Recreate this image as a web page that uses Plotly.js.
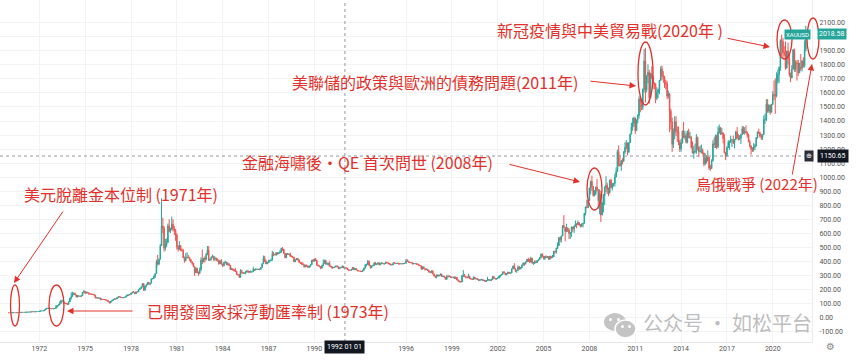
<!DOCTYPE html>
<html><head><meta charset="utf-8">
<script src="https://cdn.plot.ly/plotly-3.0.1.min.js"></script>
<style>html,body{margin:0;padding:0;background:#fff;overflow:hidden}#chart{width:856px;height:362px}</style>
</head><body><div id="chart"></div>
<script>
// ---- DATA: monthly gold (XAUUSD) candles, Jan 1970 .. Mar 2022 ----
const startYear = 1970;
const firstOpen = 35.2;
const closes = [
35.0,35.0,35.2,35.5,35.5,35.4,35.3,35.4,36.2,37.5,37.4,37.4,
37.9,38.7,38.9,39.0,40.5,40.1,41.0,42.7,42.0,42.5,43.0,43.6,
45.8,48.3,48.3,49.0,54.6,62.1,65.7,67.0,65.5,64.9,62.9,63.9,
65.1,74.2,84.5,90.5,102,120,120,106,103,100,94,112,
139,150,168,172,163,149,154,154,151,158,181,187,
175,180,177,167,167,166,166,161,141,143,138,140,
128,132,129,128,126,124,113,104,116,123,130,134,
133,142,149,148,143,141,144,145,154,162,161,165,
175,182,181,170,184,183,200,208,218,242,194,226,
233,251,240,246,275,277,296,315,397,382,416,512,
653,637,494,517,535,653,614,631,666,629,620,590,
506,489,514,482,479,426,406,426,428,427,414,397,
387,363,320,350,318,315,342,411,397,424,414,448,
480,408,414,429,437,416,422,414,405,383,406,381,
370,394,394,377,384,373,343,348,341,333,329,309,
306,287,330,321,316,317,327,333,326,325,326,327,
345,339,344,345,343,346,357,384,423,401,383,390,
405,406,409,454,452,448,462,453,460,466,493,487,
458,427,457,450,452,437,436,430,398,412,422,410,
394,388,384,378,363,373,369,358,367,377,409,401,
416,408,373,368,363,352,372,387,407,381,385,386,
366,363,355,357,361,368,362,348,355,357,366,353,
354,353,341,337,337,343,357,340,349,339,333,332,
330,328,337,353,378,378,402,372,355,369,370,390,
379,381,390,376,387,387,384,385,394,390,383,383,
375,377,390,389,385,387,383,383,384,383,386,387,
405,401,395,392,392,382,385,386,380,379,371,369,
345,362,349,341,345,336,326,325,333,311,296,290,
305,297,301,311,293,296,288,273,293,292,294,288,
287,288,279,286,268,261,255,254,299,300,291,290,
284,293,278,274,272,288,276,278,273,264,270,272,
266,267,258,264,267,270,265,273,293,279,275,277,
282,297,302,308,326,318,304,312,324,316,318,347,
368,350,334,336,361,346,354,375,388,384,396,416,
403,396,423,388,393,395,391,407,415,428,452,438,
422,435,428,435,415,436,428,433,473,470,495,513,
569,557,582,654,643,614,633,623,599,604,646,632,
651,669,662,677,659,650,665,672,743,789,783,834,
923,971,933,871,885,930,913,833,880,730,817,869,
928,942,916,891,979,926,955,955,1001,1040,1182,1095,
1081,1118,1113,1179,1212,1244,1180,1246,1307,1357,1386,1421,
1332,1409,1439,1556,1536,1500,1628,1828,1620,1722,1746,1565,
1737,1710,1669,1664,1560,1604,1622,1688,1772,1719,1712,1675,
1663,1578,1595,1472,1393,1234,1313,1396,1327,1323,1250,1202,
1244,1326,1284,1296,1250,1327,1282,1287,1210,1171,1183,1184,
1283,1213,1183,1184,1190,1172,1095,1133,1115,1142,1065,1061,
1118,1238,1234,1292,1215,1321,1351,1309,1316,1276,1173,1152,
1211,1248,1249,1268,1268,1242,1269,1321,1280,1271,1275,1303,
1345,1318,1325,1315,1299,1252,1224,1201,1192,1215,1222,1282,
1321,1313,1292,1284,1305,1409,1413,1520,1472,1513,1463,1517,
1589,1585,1577,1686,1730,1781,1975,1968,1886,1879,1777,1898,
1846,1734,1707,1769,1906,1770,1814,1813,1743,1783,1775,1829,
1796,1909,2018.58
];
const highs = [
35.3,35.2,35.3,35.7,35.9,35.6,35.5,35.6,36.3,37.6,37.7,37.6,
38.1,38.9,39.1,39.4,40.8,40.7,41.3,43.9,42.8,42.9,43.5,43.8,
46.2,49.0,48.9,49.9,56.0,65.0,70.0,70.0,67.5,66.5,65.0,64.5,
66.0,89.0,90.0,95.0,116,127,127,120,108,103,102,116,
141,180,185,180,179,164,160,160,155,162,182,197,
186,185,184,178,172,170,167,167,155,145,145,141,
141,134,133,129,130,127,124,115,118,124,131,136,
136,144,150,150,149,144,145,147,155,163,163,166,
176,184,190,182,185,187,200,212,219,245,244,226,
238,253,250,246,280,280,300,315,412,447,420,524,
850,710,650,560,565,670,700,640,720,700,653,632,
600,515,545,515,492,490,435,460,465,447,433,418,
400,390,362,360,355,329,357,430,485,425,436,460,
510,509,420,436,449,440,436,427,422,413,408,417,
385,398,406,399,395,386,374,356,351,346,353,335,
310,307,345,342,325,319,330,341,335,332,337,330,
363,346,351,348,347,347,358,387,442,440,412,396,
412,410,420,476,468,451,468,466,464,480,497,502,
484,459,459,457,457,464,444,440,428,415,424,425,
415,395,395,394,378,376,378,371,368,380,411,418,
421,425,410,376,372,366,375,414,413,412,393,391,
402,371,365,360,363,370,370,364,358,364,372,368,
361,358,354,343,340,345,361,357,350,349,339,335,
333,332,341,356,379,385,410,406,375,371,378,392,
397,387,393,391,390,396,390,387,399,398,393,387,
384,378,393,396,389,391,390,388,386,388,389,388,
418,416,405,397,394,393,387,389,387,385,383,372,
368,365,362,349,349,346,339,329,334,336,313,299,
306,306,303,315,309,299,297,289,302,306,300,297,
292,290,293,293,290,272,263,261,305,338,311,293,
292,313,299,283,278,293,290,283,277,275,271,276,
272,268,268,264,290,275,271,275,294,293,281,279,
285,297,303,309,328,330,318,317,326,322,320,349,
370,388,353,341,371,368,361,376,394,391,399,417,
427,420,433,427,394,407,408,409,416,433,455,457,
429,439,444,437,434,441,429,446,474,477,497,536,
575,575,584,659,730,643,669,645,638,608,647,646,
656,692,664,692,681,667,672,674,745,789,841,834,
925,975,1011,937,908,930,988,916,913,904,825,880,
936,1007,961,927,983,989,957,960,1024,1070,1195,1226,
1160,1120,1135,1186,1249,1265,1247,1247,1308,1388,1424,1431,
1424,1410,1447,1576,1577,1553,1632,1912,1921,1725,1803,1764,
1745,1790,1720,1676,1668,1640,1630,1693,1790,1795,1755,1722,
1694,1684,1616,1600,1487,1424,1347,1434,1434,1361,1361,1266,
1274,1333,1392,1331,1315,1332,1345,1322,1291,1255,1224,1239,
1307,1290,1220,1224,1232,1205,1175,1170,1157,1191,1142,1088,
1128,1263,1282,1304,1303,1362,1375,1358,1352,1318,1306,1181,
1220,1264,1261,1295,1269,1296,1270,1331,1357,1306,1299,1309,
1366,1361,1356,1369,1326,1310,1265,1219,1214,1243,1237,1285,
1326,1346,1324,1310,1305,1439,1453,1555,1557,1518,1516,1523,
1611,1689,1704,1747,1765,1789,1981,2015,1992,1933,1966,1900,
1959,1872,1745,1798,1913,1916,1832,1834,1836,1814,1877,1831,
1853,1974,2078
];
const lows = [
34.8,34.8,34.9,35.1,35.3,35.2,35.1,35.2,35.3,36.1,37.1,37.2,
37.3,37.8,38.5,38.6,38.9,39.9,40.0,40.8,41.5,41.9,42.3,42.9,
43.6,45.5,47.6,48.1,49.2,54.0,61.5,64.5,63.8,63.5,62.4,62.0,
63.0,64.5,74.0,84.0,90.0,101,115,95,96,96,90,92,
114,128,147,160,160,143,143,149,149,150,156,175,
168,172,174,166,164,164,163,158,137,138,137,135,
124,126,127,126,125,122,112,103,106,114,121,129,
131,132,142,145,143,140,140,143,145,153,157,159,
165,174,180,168,169,182,183,197,205,217,193,194,
216,232,234,230,244,275,278,282,315,370,374,417,
520,600,470,478,502,531,608,603,622,614,588,547,
485,470,480,474,470,426,391,401,420,425,405,391,
376,360,297,323,318,297,310,330,380,398,392,408,
455,408,403,408,425,404,406,402,400,378,382,376,
360,365,385,374,372,369,339,340,335,330,325,303,
299,284,286,315,310,313,309,321,316,321,321,320,
325,332,337,339,341,338,339,355,384,399,381,381,
391,393,403,409,437,444,440,450,454,458,464,475,
452,423,425,447,448,434,430,428,395,398,410,408,
392,382,377,377,355,359,360,355,356,359,376,399,
398,404,370,366,363,345,352,366,385,378,374,371,
366,357,345,353,354,359,360,345,347,355,356,353,
350,350,340,336,334,336,343,340,340,339,333,331,
327,326,326,336,352,365,377,370,349,355,368,368,
375,375,379,372,376,384,380,377,384,388,382,378,
372,372,377,388,382,383,381,380,381,381,381,384,
386,398,394,389,388,380,381,384,378,378,371,367,
343,342,348,337,339,336,318,316,316,309,294,283,
279,294,293,299,292,290,286,271,275,285,290,285,
284,282,278,277,268,257,253,252,254,289,290,279,
283,282,276,274,268,271,275,271,268,263,265,266,
262,262,255,255,263,264,264,269,269,278,273,271,
277,281,287,300,306,318,303,302,312,314,315,318,
344,346,324,319,336,342,344,354,372,368,378,396,
397,391,394,386,375,382,388,389,402,412,421,431,
414,410,426,426,415,414,420,429,433,456,456,489,
517,538,535,582,637,543,608,609,560,561,576,613,
603,647,636,661,655,642,645,642,670,728,780,782,
837,878,902,862,863,872,900,775,737,681,730,750,
801,893,881,865,881,921,904,933,934,1002,1044,1075,
1076,1045,1091,1112,1166,1200,1156,1172,1243,1316,1330,1360,
1309,1329,1383,1418,1462,1478,1478,1603,1532,1604,1669,1523,
1563,1698,1628,1627,1527,1549,1564,1592,1690,1694,1672,1636,
1626,1555,1562,1321,1339,1180,1208,1270,1293,1251,1228,1180,
1182,1240,1277,1268,1240,1241,1282,1273,1205,1183,1131,1170,
1167,1191,1142,1174,1169,1162,1077,1084,1098,1116,1052,1046,
1062,1111,1208,1208,1200,1207,1310,1301,1302,1241,1171,1122,
1146,1207,1194,1245,1214,1236,1205,1266,1271,1261,1264,1236,
1302,1307,1303,1314,1282,1250,1211,1160,1180,1182,1196,1221,
1275,1310,1281,1266,1266,1301,1380,1400,1459,1458,1445,1458,
1517,1548,1451,1568,1666,1671,1757,1863,1849,1860,1765,1775,
1803,1717,1677,1722,1768,1750,1751,1688,1721,1746,1758,1753,
1780,1781,1895
];
const yearTicks = [1972,1975,1978,1981,1984,1987,1990,1996,1999,2002,2005,2008,2011,2014,2017,2020];
const priceTicks = [-100,0,100,200,300,400,500,600,700,800,900,1000,1100,1200,1300,1400,1500,1600,1700,1800,1900,2000,2100];
const hiddenPriceTicks = [2000];   // covered by the last-price tag in the reference
const symbol = 'XAUUSD';
const crossDate = '1992-01-01';
const crossDateText = '1992 01 01';
const crossPrice = 1150.65;
const notes = [
  '美元脫離金本位制 (1971年)',
  '已開發國家採浮動匯率制 (1973年)',
  '金融海嘯後・QE 首次問世 (2008年)',
  '美聯儲的政策與歐洲的債務問題(2011年)',
  '新冠疫情與中美貿易戰(2020年 )',
  '烏俄戰爭 (2022年)'
];
const watermark = '公众号 · 如松平台';

// ---- build ----
const dates = closes.map((_, i) => {
  const y = startYear + Math.floor(i / 12), m = (i % 12) + 1;
  return y + '-' + String(m).padStart(2, '0') + '-01';
});
const opens = closes.map((_, i) => i === 0 ? firstOpen : closes[i - 1]);
const lastPrice = closes[closes.length - 1];

const W = 812, H = 342;
const px = x => x / W, py = y => 1 - y / H;
const red = '#e3302a';

function label(text, x, y, size) {
  return {xref:'paper', yref:'paper', x:px(x), y:py(y), xanchor:'left', yanchor:'middle', text:text,
    showarrow:false, font:{family:'Noto Sans CJK TC', size:size || 16, color:red}};
}
function arrow(hx, hy, tx, ty) {
  return {xref:'paper', yref:'paper', x:px(hx), y:py(hy), ax:tx - hx, ay:ty - hy, text:'',
    showarrow:true, arrowhead:2, arrowsize:1.3, arrowwidth:1, arrowcolor:red, standoff:0, startstandoff:0};
}
function ell(cx, cy, rx, ry) {
  return {type:'circle', xref:'paper', yref:'paper', x0:px(cx - rx), x1:px(cx + rx), y0:py(cy + ry), y1:py(cy - ry),
    line:{color:red, width:1.3}, fillcolor:'rgba(0,0,0,0)'};
}

const trace = {
  type:'candlestick', x:dates, open:opens, high:highs, low:lows, close:closes,
  increasing:{line:{color:'#26a69a', width:1}, fillcolor:'#26a69a'},
  decreasing:{line:{color:'#ef5350', width:1}, fillcolor:'#ef5350'},
  whiskerwidth:0, hoverinfo:'skip'
};

const tickFont = {family:'Roboto, Liberation Sans, sans-serif', size:7, color:'#555'};
const boxFont = {family:'Roboto, Liberation Sans, sans-serif', size:7, color:'#fff'};

const layout = {
  width:856, height:362,
  margin:{l:0, r:44, t:0, b:20},
  paper_bgcolor:'#fff', plot_bgcolor:'#fff',
  showlegend:false,
  xaxis:{type:'date', range:['1969-06-05','2022-07-27'], rangeslider:{visible:false},
    tickvals:yearTicks.map(y => y + '-01-01'), ticktext:yearTicks.map(String),
    tickfont:tickFont, ticks:'', showgrid:true, gridcolor:'#f3f3f3', zeroline:false,
    showline:true, linecolor:'#e6e6e6', fixedrange:true},
  yaxis:{side:'right', range:[-173.4, 2261.7], tickvals:priceTicks,
    ticktext:priceTicks.map(v => hiddenPriceTicks.includes(v) ? '' : v.toFixed(2)),
    tickfont:tickFont, ticks:'', ticklabelstandoff:5, showgrid:true, gridcolor:'#f3f3f3', zeroline:false,
    showline:true, linecolor:'#ececec', fixedrange:true},
  shapes:[
    {type:'line', xref:'x', yref:'paper', x0:crossDate, x1:crossDate, y0:0, y1:1, line:{color:'#9598a1', width:1, dash:'dot'}},
    {type:'line', xref:'paper', yref:'y', x0:0, x1:1, y0:crossPrice, y1:crossPrice, line:{color:'#9598a1', width:1, dash:'dot'}},
    ell(15, 305.5, 4.5, 20.5),
    ell(56.5, 305.5, 7.5, 20.5),
    ell(594.5, 189, 7.5, 21),
    ell(645.5, 73.5, 7.5, 31.5),
    ell(784.5, 39.5, 7.5, 19.5),
    ell(813, 38.5, 6, 20.5),
    // WeChat icon of the watermark
    {type:'circle', xref:'paper', yref:'paper', x0:px(604), x1:px(626), y0:py(331), y1:py(313), fillcolor:'#c4c4c4', line:{width:0}},
    {type:'circle', xref:'paper', yref:'paper', x0:px(615), x1:px(636), y0:py(338), y1:py(320), fillcolor:'#c4c4c4', line:{color:'#fff', width:1.5}},
    {type:'circle', xref:'paper', yref:'paper', x0:px(609), x1:px(612), y0:py(321), y1:py(318), fillcolor:'#fff', line:{width:0}},
    {type:'circle', xref:'paper', yref:'paper', x0:px(617), x1:px(620), y0:py(321), y1:py(318), fillcolor:'#fff', line:{width:0}},
    {type:'circle', xref:'paper', yref:'paper', x0:px(621), x1:px(624), y0:py(328), y1:py(325), fillcolor:'#fff', line:{width:0}},
    {type:'circle', xref:'paper', yref:'paper', x0:px(628), x1:px(631), y0:py(328), y1:py(325), fillcolor:'#fff', line:{width:0}}
  ],
  annotations:[
    label(notes[0], 22, 194),
    label(notes[1], 145, 311),
    label(notes[2], 240, 162),
    label(notes[3], 290, 82),
    label(notes[4], 495, 30),
    label(notes[5], 694, 183, 15),
    arrow(14, 283, 64, 210),
    arrow(67, 311, 134, 311),
    arrow(580, 182, 508, 164),
    arrow(636, 86, 589, 81),
    arrow(770, 47, 726, 38),
    arrow(812, 64, 792, 176),
    {xref:'paper', yref:'paper', x:px(641), y:py(322), xanchor:'left', yanchor:'middle', text:watermark, showarrow:false,
      font:{family:'Noto Sans CJK SC', size:20, color:'rgba(145,145,145,0.6)'}},
    {xref:'x', yref:'paper', x:crossDate, y:py(347), yanchor:'middle', text:crossDateText, showarrow:false,
      bgcolor:'#131722', borderpad:2, font:boxFont},
    {xref:'paper', yref:'y', x:1, xanchor:'left', xshift:5, y:crossPrice, yanchor:'middle', text:crossPrice.toFixed(2), showarrow:false,
      bgcolor:'#131722', borderpad:2, font:boxFont},
    {xref:'paper', yref:'y', x:px(809), xanchor:'center', y:crossPrice, yanchor:'middle', text:'⊕', showarrow:false,
      bgcolor:'#2a2e39', borderpad:1, font:{family:'DejaVu Sans', size:7, color:'#fff'}},
    {xref:'paper', yref:'y', x:1, xanchor:'left', xshift:5, y:lastPrice, yanchor:'middle', text:lastPrice.toFixed(2), showarrow:false,
      bgcolor:'#26a69a', borderpad:1, font:boxFont},
    {xref:'paper', yref:'y', x:px(812), xanchor:'right', xshift:-1, y:lastPrice, yanchor:'middle', text:symbol, showarrow:false,
      bgcolor:'#26a69a', borderpad:1, font:{family:'Roboto, Liberation Sans, sans-serif', size:6, color:'#fff'}},
    {xref:'paper', yref:'paper', x:px(830), y:py(346), xanchor:'center', yanchor:'middle', text:'⚙', showarrow:false,
      font:{family:'DejaVu Sans', size:10, color:'#888'}}
  ]
};

Plotly.newPlot('chart', [trace], layout, {displayModeBar:false, staticPlot:true});
</script>
</body></html>
